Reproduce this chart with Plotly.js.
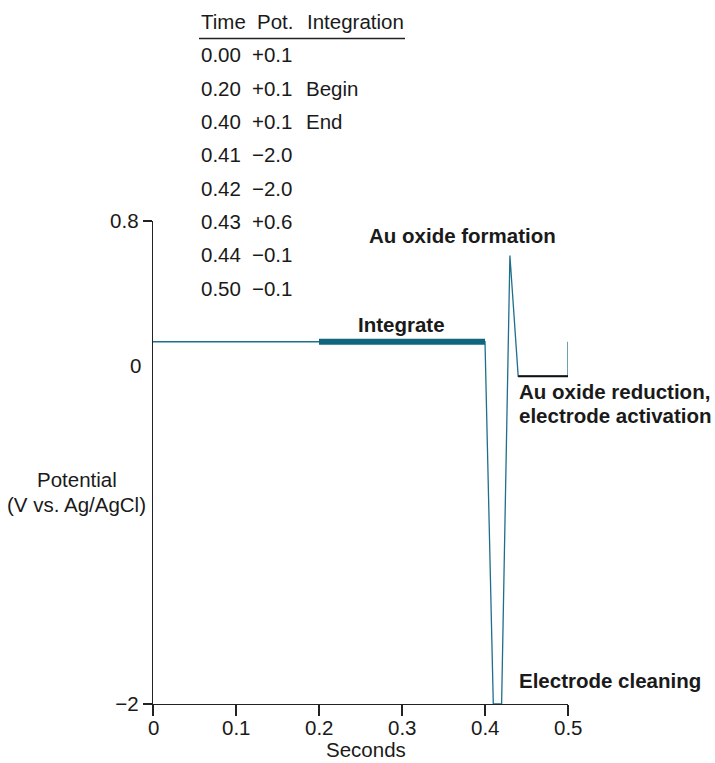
<!DOCTYPE html>
<html>
<head>
<meta charset="utf-8">
<script src="https://cdn.plot.ly/plotly-3.0.1.min.js"></script>
<style>html,body{margin:0;padding:0;background:#fff;}#chart{width:715px;height:763px;}</style>
</head>
<body>
<div id="chart"></div>
<script>
// Waveform table (time in s, potential in V vs. Ag/AgCl)
var times = [0.00, 0.20, 0.40, 0.41, 0.42, 0.43, 0.44, 0.50];
var potentials = [0.1, 0.1, 0.1, -2.0, -2.0, 0.6, -0.1, -0.1];
var integration = ["", "Begin", "End", "", "", "", "", ""];
// start of the next cycle drawn at the right edge
var restartTimes = [0.50];
var restartPotentials = [0.1];
var xTicks = [0, 0.1, 0.2, 0.3, 0.4, 0.5];
var yTicks = [-2, 0.8];

var FONT = "Liberation Sans, Arial, Helvetica, sans-serif";
var FS = 20.5;
var TXT = "#1a1a1a";

function fmtPot(v){ return (v >= 0 ? "+" : "\u2212") + Math.abs(v).toFixed(1); }

var lineX = times.concat(restartTimes);
var lineY = potentials.concat(restartPotentials);

var iBegin = integration.indexOf("Begin"), iEnd = integration.indexOf("End");
var redStart = 6, redEnd = 7;

var traces = [
  {x: lineX, y: lineY, mode: "lines", line: {color: "#1f6f8b", width: 1.3}, hoverinfo: "skip", cliponaxis: false},
  {x: [times[iBegin], times[iEnd]], y: [potentials[iBegin], potentials[iEnd]], mode: "lines",
   line: {color: "#10667f", width: 6}, hoverinfo: "skip"},
  {x: [times[redStart], times[redEnd]], y: [potentials[redStart], potentials[redEnd]], mode: "lines",
   line: {color: "#111", width: 2}, hoverinfo: "skip"}
];

var ann = [];
var colX = [199, 250, 304];
var headerY = 21, rowY0 = 55, rowStep = 33.3;
var headers = ["Time", "Pot.", "Integration"];
var headerX = [199, 255, 305];
headers.forEach(function(h, i){ ann.push({text: h, _px: headerX[i], _py: headerY}); });
times.forEach(function(t, i){
  var y = rowY0 + i * rowStep;
  ann.push({text: t.toFixed(2), _px: colX[0], _py: y});
  ann.push({text: fmtPot(potentials[i]), _px: colX[1], _py: y});
  if (integration[i]) ann.push({text: integration[i], _px: colX[2], _py: y});
});

ann.push({text: "0", _px: 143, _py: 365, xanchor: "right"});
ann.push({text: "Seconds", _px: 366, _py: 749, xanchor: "center"});
ann.push({text: "Potential", _px: 77, _py: 479, xanchor: "center"});
ann.push({text: "(V vs. Ag/AgCl)", _px: 76, _py: 504, xanchor: "center"});
ann.push({text: "<b>Au oxide formation</b>", _px: 367, _py: 236});
ann.push({text: "<b>Integrate</b>", _px: 356, _py: 324});
ann.push({text: "<b>Au oxide reduction,</b>", _px: 517, _py: 391});
ann.push({text: "<b>electrode activation</b>", _px: 517, _py: 415});
ann.push({text: "<b>Electrode cleaning</b>", _px: 517, _py: 680});

var W = 715, H = 763;
var m = {l: 153, r: 147, t: 221, b: 59};
var pw = W - m.l - m.r, ph = H - m.t - m.b;
ann = ann.map(function(a){
  return {xref: "paper", yref: "paper", showarrow: false,
    x: (a._px - m.l) / pw, y: 1 - (a._py - m.t) / ph,
    text: a.text, xanchor: a.xanchor || "left", yanchor: "middle",
    font: {family: FONT, size: FS, color: TXT}};
});
// x tick labels, placed from the tick values
xTicks.forEach(function(v){
  ann.push({xref: "x", yref: "paper", x: v, y: 0, yanchor: "top", xanchor: "center",
    yshift: -10, showarrow: false, text: String(v),
    font: {family: FONT, size: FS, color: TXT}});
});

var layout = {
  width: W, height: H, margin: m,
  paper_bgcolor: "#fff", plot_bgcolor: "#fff",
  showlegend: false,
  font: {family: FONT, size: FS, color: TXT},
  xaxis: {range: [0, 0.5], tickvals: xTicks, showticklabels: false,
    showgrid: false, zeroline: false, showline: true, linecolor: "#222", linewidth: 1.3,
    ticks: "outside", ticklen: 11, tickwidth: 1.3, tickcolor: "#222", fixedrange: true},
  yaxis: {range: [-2, 0.8], tickvals: yTicks, ticktext: ["\u22122", "0.8"],
    showgrid: false, zeroline: false, showline: true, linecolor: "#222", linewidth: 1.3,
    ticks: "outside", ticklen: 9, tickwidth: 1.3, tickcolor: "#222",
    tickfont: {family: FONT, size: FS, color: TXT}, fixedrange: true},
  shapes: [{type: "line", xref: "paper", yref: "paper",
    x0: (199 - m.l) / pw, x1: (405 - m.l) / pw,
    y0: 1 - (38.5 - m.t) / ph, y1: 1 - (38.5 - m.t) / ph,
    line: {color: "#222", width: 1.3}}],
  annotations: ann
};

Plotly.newPlot("chart", traces, layout, {displayModeBar: false, staticPlot: true});
</script>
</body>
</html>
